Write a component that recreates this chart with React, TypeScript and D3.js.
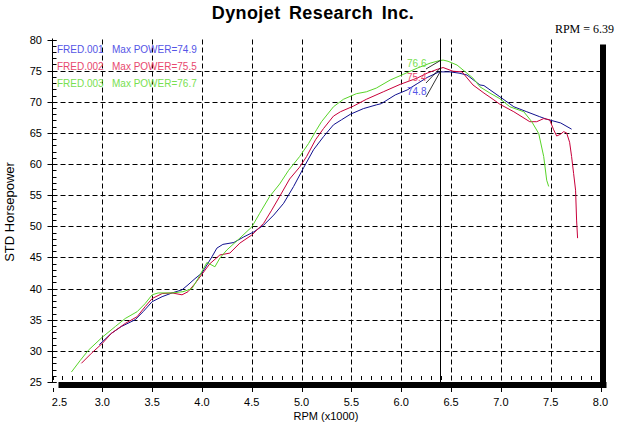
import React from "react";
import * as d3 from "d3";

const xTicks = [2.5, 3.0, 3.5, 4.0, 4.5, 5.0, 5.5, 6.0, 6.5, 7.0, 7.5, 8.0];
const yTicks = [25, 30, 35, 40, 45, 50, 55, 60, 65, 70, 75, 80];
const cursorRpm = 6.39;

const seriesNames = ["FRED.001", "FRED.002", "FRED.003"];
const maxPower = [74.9, 75.5, 76.7];
const cursorValues = [74.8, 75.4, 76.6];

const rpm001 = [2.97, 3.09, 3.19, 3.33, 3.41, 3.5, 3.6, 3.7, 3.8, 3.86, 3.93, 4.0, 4.1, 4.15, 4.21, 4.32, 4.42, 4.52, 4.62, 4.72, 4.82, 4.92, 5.02, 5.12, 5.22, 5.32, 5.4, 5.49, 5.62, 5.75, 5.8, 5.94, 6.06, 6.16, 6.26, 6.38, 6.49, 6.58, 6.66, 6.79, 6.83, 6.99, 7.13, 7.26, 7.39, 7.46, 7.6, 7.71];
const hp001 = [31.0, 32.8, 33.9, 35.0, 36.3, 37.9, 38.7, 39.3, 39.8, 40.6, 41.6, 42.5, 45.1, 46.5, 47.1, 47.4, 48.3, 49.1, 50.2, 51.8, 53.7, 56.4, 59.4, 62.3, 64.4, 66.3, 67.1, 68.0, 68.9, 69.5, 69.7, 71.1, 71.9, 72.9, 73.9, 74.8, 74.8, 74.6, 74.3, 72.7, 72.6, 70.8, 69.2, 68.4, 67.6, 67.2, 66.6, 65.6];

const rpm002 = [2.79, 2.89, 3.0, 3.09, 3.23, 3.35, 3.43, 3.5, 3.6, 3.7, 3.8, 3.86, 3.93, 4.0, 4.08, 4.18, 4.28, 4.38, 4.5, 4.62, 4.7, 4.78, 4.88, 4.98, 5.05, 5.14, 5.22, 5.32, 5.39, 5.52, 5.65, 5.82, 5.99, 6.16, 6.26, 6.36, 6.42, 6.52, 6.61, 6.72, 6.83, 6.93, 6.99, 7.13, 7.29, 7.36, 7.43, 7.49, 7.53, 7.56, 7.6, 7.63, 7.66, 7.69, 7.71, 7.73, 7.75, 7.76, 7.77];
const hp002 = [28.0, 29.6, 31.2, 32.8, 34.4, 35.5, 37.1, 38.4, 39.2, 39.3, 39.0, 39.5, 40.8, 42.3, 44.0, 45.4, 45.7, 47.3, 48.6, 50.5, 52.6, 54.8, 57.6, 59.5, 61.2, 63.9, 65.7, 67.7, 68.4, 69.3, 70.4, 71.6, 72.8, 73.8, 74.6, 75.2, 75.5, 74.9, 74.8, 72.7, 71.4, 70.3, 69.6, 68.4, 66.8, 66.8, 67.3, 67.1, 65.5, 64.5, 64.8, 65.2, 65.0, 63.5, 61.2, 58.5, 55.8, 51.0, 48.1];

const rpm003 = [2.69, 2.78, 2.86, 3.0, 3.13, 3.23, 3.35, 3.43, 3.5, 3.56, 3.7, 3.81, 3.9, 3.96, 4.05, 4.13, 4.18, 4.25, 4.38, 4.5, 4.58, 4.68, 4.78, 4.87, 4.98, 5.07, 5.15, 5.2, 5.32, 5.42, 5.55, 5.65, 5.75, 5.89, 6.02, 6.16, 6.29, 6.38, 6.42, 6.47, 6.56, 6.72, 6.79, 6.89, 6.99, 7.09, 7.23, 7.31, 7.38, 7.43, 7.46, 7.48];
const hp003 = [26.6, 28.5, 30.1, 32.2, 33.9, 35.2, 36.3, 37.6, 39.0, 39.3, 39.3, 39.5, 40.0, 41.6, 44.2, 43.5, 44.9, 46.2, 48.1, 49.9, 52.1, 54.8, 56.8, 59.0, 61.2, 63.3, 65.5, 66.8, 69.2, 70.4, 71.3, 71.6, 72.2, 73.5, 74.4, 75.4, 76.2, 76.6, 76.7, 76.5, 75.9, 73.8, 72.4, 71.4, 70.5, 69.2, 68.4, 66.8, 64.9, 61.2, 57.4, 56.4];

const lineColors = ["#10108f", "#c8003a", "#58d428"];
const textColors = ["#5555e6", "#e8486e", "#78e050"];

const W = 627;
const H = 426;
const L = 52.5, R = 600.5, T = 39.5, B = 382;

export default function App() {
  const x = d3.scaleLinear().domain([2.5, 8]).range([L, R]);
  const y = d3.scaleLinear().domain([25, 80]).range([B, T]);
  const line = d3.line<[number, number]>().x((d) => x(d[0])).y((d) => y(d[1]));
  const series = [
    d3.zip(rpm001, hp001) as [number, number][],
    d3.zip(rpm002, hp002) as [number, number][],
    d3.zip(rpm003, hp003) as [number, number][],
  ];
  const minorY = d3.range(25, 81, 1);
  const minorX = d3.range(25, 80, 1).map((v) => v / 10);
  const sans = "'Liberation Sans', Arial, sans-serif";
  const cx = x(cursorRpm);
  const labelY = [95, 81, 67];

  return (
    <svg width={W} height={H} style={{ position: "absolute", left: 0, top: 0, background: "#fff" }} fontFamily={sans}>
      <rect x={0} y={0} width={W} height={H} fill="#fff" />
      <text x={313} y={19} textAnchor="middle" fontSize={18} fontWeight="bold" letterSpacing={0.4} wordSpacing={3} fill="#000">Dynojet Research Inc.</text>
      <text x={614} y={33} textAnchor="end" fontSize={12} fontFamily="'Liberation Serif', 'Times New Roman', serif" fill="#000">RPM = 6.39</text>

      {/* grid */}
      {yTicks.filter((t) => t > 25 && t < 80).map((t) => (
        <line key={"gy" + t} x1={L} x2={R} y1={Math.round(y(t)) + 0.5} y2={Math.round(y(t)) + 0.5} stroke="#000" strokeDasharray="5,3" />
      ))}
      {xTicks.filter((t) => t > 2.5 && t < 8).map((t) => (
        <line key={"gx" + t} x1={Math.round(x(t)) + 0.5} x2={Math.round(x(t)) + 0.5} y1={T} y2={B} stroke="#000" strokeDasharray="5,3" />
      ))}

      {/* shadow frame */}
      <rect x={R - 0.5} y={T + 5} width={6} height={B - T + 1} fill="#000" />
      <rect x={L + 6} y={B} width={R - L} height={6} fill="#000" />

      {/* left axis */}
      <line x1={L} x2={L} y1={T - 1} y2={B} stroke="#000" />
      {minorY.map((t) => (
        <line key={"my" + t} x1={L} x2={L + 4} y1={Math.round(y(t)) + 0.5} y2={Math.round(y(t)) + 0.5} stroke="#000" />
      ))}
      {yTicks.map((t) => (
        <g key={"ty" + t}>
          <line x1={L - 5} x2={L + 4} y1={Math.round(y(t)) + 0.5} y2={Math.round(y(t)) + 0.5} stroke="#000" />
          <text x={42} y={y(t) + 4} textAnchor="end" fontSize={11} fill="#000">{t}</text>
        </g>
      ))}
      <text transform={`translate(14,212) rotate(-90)`} textAnchor="middle" fontSize={13} fill="#000">STD Horsepower</text>

      {/* bottom axis */}
      {minorX.map((t) => (
        <line key={"mx" + t} x1={Math.round(x(t)) + 0.5} x2={Math.round(x(t)) + 0.5} y1={B - 6} y2={B - 2} stroke="#000" />
      ))}
      {xTicks.map((t, i) => (
        <g key={"tx" + t}>
          <line x1={Math.round(x(t)) + 0.5} x2={Math.round(x(t)) + 0.5} y1={B + 6} y2={B + 10} stroke="#000" />
          <text x={i === 0 ? x(t) + 7 : x(t)} y={406} textAnchor="middle" fontSize={11} fill="#000">{t.toFixed(1)}</text>
        </g>
      ))}
      <text x={326} y={420} textAnchor="middle" fontSize={11} fill="#000">RPM (x1000)</text>

      {/* curves */}
      {series.map((s, i) => (
        <path key={"s" + i} d={line(s) || ""} fill="none" stroke={lineColors[i]} strokeWidth={1} />
      ))}

      {/* cursor */}
      <line x1={Math.round(cx) + 0.5} x2={Math.round(cx) + 0.5} y1={T - 1} y2={B} stroke="#000" />
      {cursorValues.map((v, i) => (
        <g key={"cv" + i}>
          <line x1={426} y1={labelY[i] + 2} x2={cx} y2={y(v)} stroke="#000" strokeWidth={0.8} />
          <text x={407} y={labelY[i]} fontSize={10} fill={textColors[i]}>{v.toFixed(1)}</text>
        </g>
      ))}

      {/* legend */}
      {seriesNames.map((n, i) => (
        <g key={"lg" + i}>
          <text x={57} y={53 + i * 17} fontSize={10} fill={textColors[i]}>{n}</text>
          <text x={112} y={53 + i * 17} fontSize={10} fill={textColors[i]}>{"Max POWER=" + maxPower[i].toFixed(1)}</text>
        </g>
      ))}
    </svg>
  );
}
